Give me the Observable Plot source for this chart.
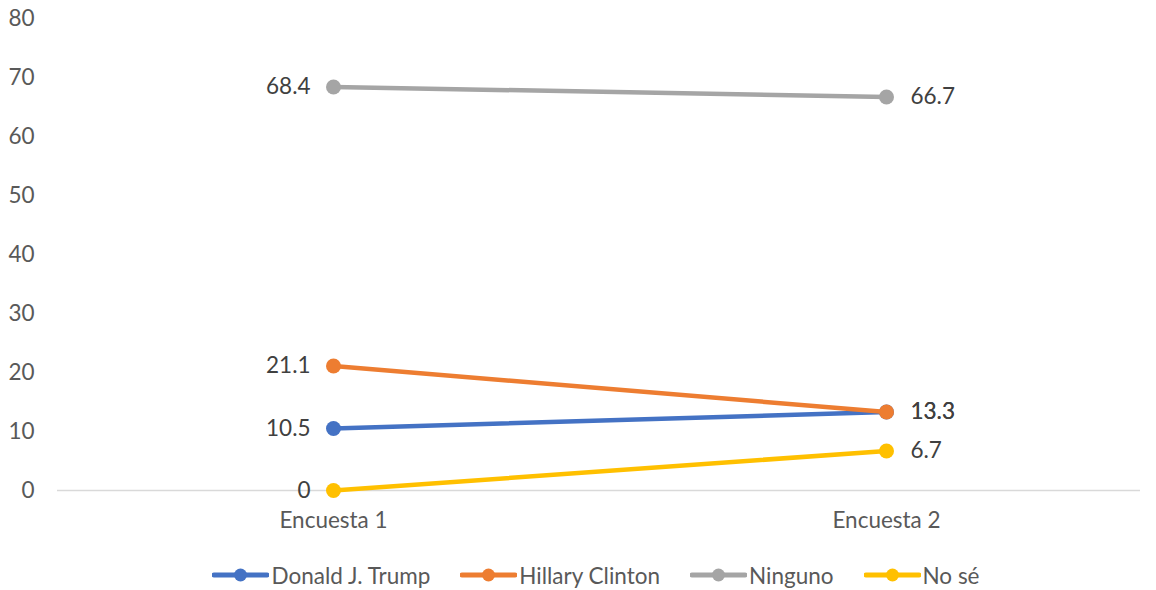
<!DOCTYPE html>
<html>
<head>
<meta charset="utf-8">
<script src="https://cdn.jsdelivr.net/npm/d3@7"></script>
<script src="https://cdn.jsdelivr.net/npm/@observablehq/plot@0.6"></script>
<style>
  html, body { margin: 0; padding: 0; background: #fff; }
  body { width: 1156px; height: 590px; overflow: hidden; font-family: Lato, "Open Sans", sans-serif; }
  #legend { display: flex; justify-content: center; align-items: center; gap: 30px; height: 40px; margin-top: 5px; font-size: 22.5px; color: #595959; padding-left: 36px; }
  .item { display: flex; align-items: center; }
  .item svg { display: block; margin-right: 2px; }
</style>
</head>
<body>
<div id="chart"></div>
<div id="legend"></div>
<script>
const categories = ["Encuesta 1", "Encuesta 2"];
const seriesNames = ["Donald J. Trump", "Hillary Clinton", "Ninguno", "No sé"];
const trump = [10.5, 13.3];
const clinton = [21.1, 13.3];
const ninguno = [68.4, 66.7];
const noSe = [0, 6.7];
const colors = ["#4472C4", "#ED7D31", "#A5A5A5", "#FFC000"];
const yTicks = [0, 10, 20, 30, 40, 50, 60, 70, 80];

const seriesValues = [trump, clinton, ninguno, noSe];
const rows = seriesValues.flatMap((vals, s) =>
  vals.map((v, i) => ({ series: seriesNames[s], category: categories[i], value: v }))
);

const font = "Lato, 'Open Sans', sans-serif";
const fs = 22.5;

const chart = Plot.plot({
  width: 1156,
  height: 550,
  marginLeft: 57,
  marginRight: 16,
  marginTop: 18,
  marginBottom: 60,
  style: { fontFamily: font, fontSize: fs + "px", background: "#fff" },
  x: { type: "point", domain: categories, range: [333, 886], padding: 0 },
  y: { domain: [0, 80] },
  color: { domain: seriesNames, range: colors },
  marks: [
    Plot.ruleY([0], { stroke: "#D9D9D9", strokeWidth: 1.5, strokeOpacity: 1 }),
    Plot.axisY({ ticks: yTicks, tickSize: 0, tickPadding: 23, color: "#595959", label: null, fontSize: fs }),
    Plot.axisX({ tickSize: 0, tickPadding: 22, color: "#595959", label: null, fontSize: fs }),
    ...seriesNames.map((name) => {
      const d = rows.filter((r) => r.series === name);
      return [
        Plot.line(d, { x: "category", y: "value", stroke: "series", strokeWidth: 4.5, strokeLinecap: "round" }),
        Plot.dot(d, { x: "category", y: "value", fill: "series", r: 7.5 })
      ];
    }).flat(),
    Plot.text(rows.filter((r) => r.category === categories[0]), {
      x: "category", y: "value", text: (d) => String(d.value),
      textAnchor: "end", dx: -23, fill: "#404040", fontSize: fs
    }),
    Plot.text(rows.filter((r) => r.category === categories[1]), {
      x: "category", y: "value", text: (d) => String(d.value),
      textAnchor: "start", dx: 24, fill: "#404040", fontSize: fs
    })
  ]
});
document.getElementById("chart").appendChild(chart);

const legend = document.getElementById("legend");
seriesNames.forEach((name, i) => {
  const item = document.createElement("div");
  item.className = "item";
  item.innerHTML =
    `<svg width="57" height="16"><line x1="2" y1="8" x2="55" y2="8" stroke="${colors[i]}" stroke-width="5" stroke-linecap="round"/>` +
    `<circle cx="28.5" cy="8" r="6.5" fill="${colors[i]}"/></svg><span>${name}</span>`;
  legend.appendChild(item);
});
</script>
</body>
</html>
